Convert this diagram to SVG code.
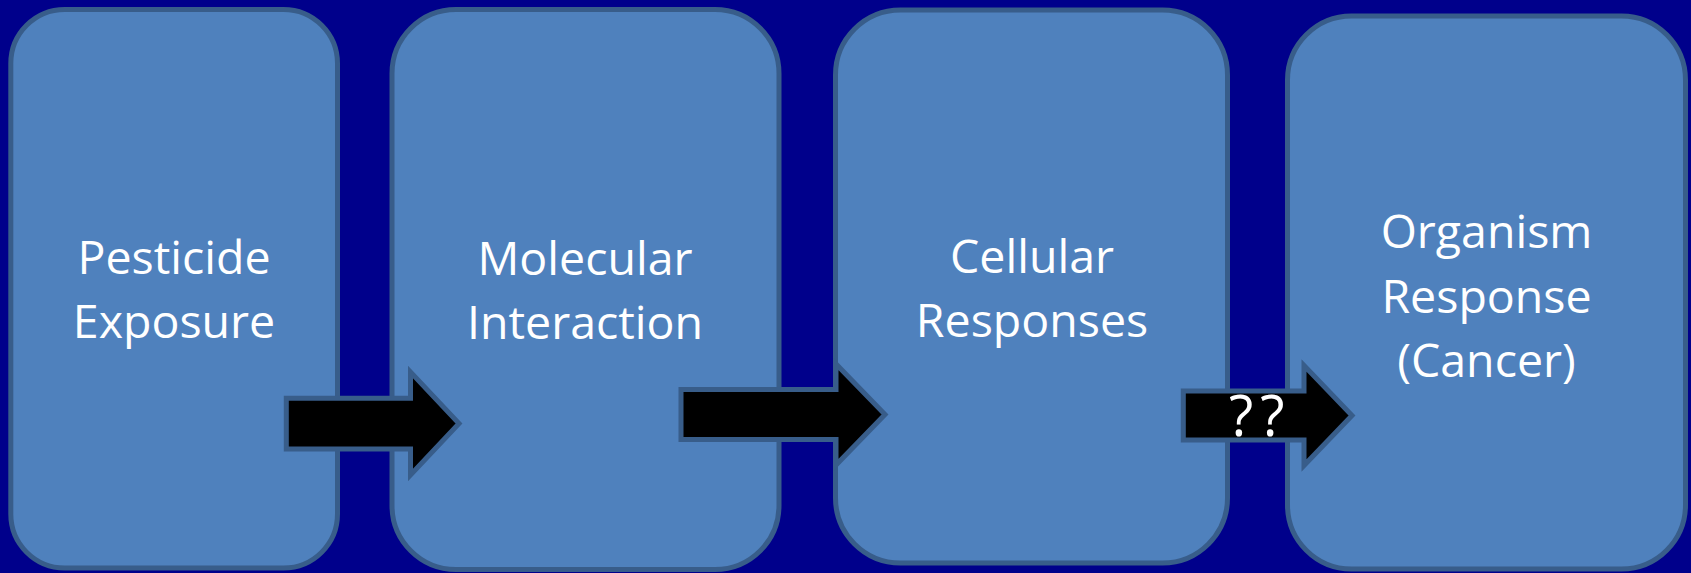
<svg xmlns="http://www.w3.org/2000/svg" width="1691" height="573" viewBox="0 0 1691 573">
  <style>
    .box { fill: #4F81BD; stroke: #385D8A; stroke-width: 5; }
    .arrow { fill: #000000; stroke: #385D8A; stroke-width: 5; stroke-linejoin: miter; }
    .lbl { font-family: "Open Sans", "Liberation Sans", sans-serif; font-size: 46.5px; fill: #FFFFFF; text-anchor: middle; }
    .q { font-family: "Open Sans", "Liberation Sans", sans-serif; font-size: 56px; fill: #FFFFFF; letter-spacing: 7px; }
  </style>
  <rect x="0" y="0" width="1691" height="573" fill="#00008B"/>
  <g id="node-pesticide-exposure">
    <rect class="box" x="10.8" y="9.5" width="326.7" height="558.5" rx="54" ry="54"/>
    <text class="lbl" x="174" y="274">Pesticide</text>
    <text class="lbl" x="174" y="338">Exposure</text>
  </g>
  <g id="node-molecular-interaction">
    <rect class="box" x="392" y="9.5" width="387" height="560" rx="64" ry="64"/>
    <text class="lbl" x="585" y="275">Molecular</text>
    <text class="lbl" x="585" y="339">Interaction</text>
  </g>
  <g id="node-cellular-responses">
    <rect class="box" x="835.5" y="10" width="392" height="553" rx="65" ry="65"/>
    <text class="lbl" x="1032" y="273">Cellular</text>
    <text class="lbl" x="1032" y="337">Responses</text>
  </g>
  <g id="node-organism-response">
    <rect class="box" x="1287.5" y="16" width="398" height="553" rx="64" ry="64"/>
    <text class="lbl" x="1486.5" y="248">Organism</text>
    <text class="lbl" x="1486.5" y="313">Response</text>
    <text class="lbl" x="1486.5" y="377">(Cancer)</text>
  </g>
  <g id="connectors">
    <polygon class="arrow" points="286.3,398.3 410.5,398.3 410.5,372 459,423.5 410.5,475 410.5,449 286.3,449"/>
    <polygon class="arrow" points="681,389.5 836,389.5 836,364 885,414.5 836,465 836,439.5 681,439.5"/>
    <polygon class="arrow" points="1183.3,391 1304,391 1304,365.5 1352,415.5 1304,465.5 1304,440 1183.3,440"/>
    <text class="q" x="1229" y="436">??</text>
  </g>
</svg>
